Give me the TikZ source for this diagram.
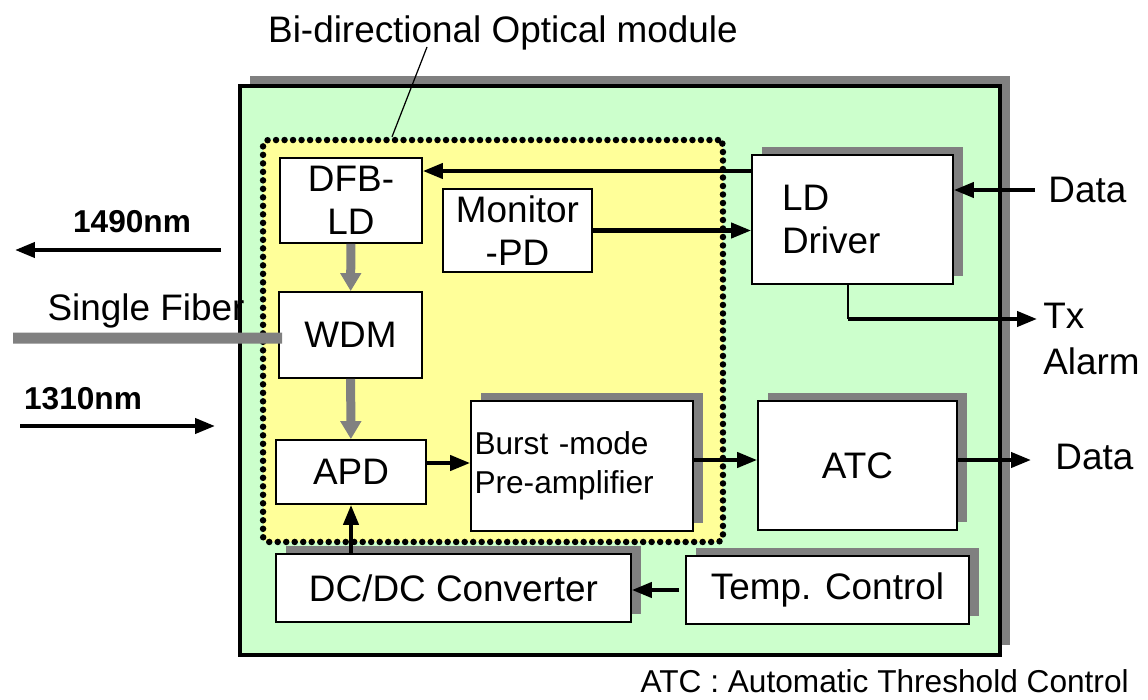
\documentclass[tikz,border=0pt]{standalone}
\usepackage{fontspec}
\setmainfont{Liberation Sans}
\usepackage{tikz}
\usetikzlibrary{arrows.meta,positioning,calc,shadows}
\definecolor{ModGreen}{HTML}{CCFFCC}
\definecolor{ModYellow}{HTML}{FFFF99}
\definecolor{ModGray}{HTML}{808080}
\tikzset{
    % Base block style
    blocknode/.style={
        draw=black,
        fill=white,
        line width=1pt,
        inner sep=0pt,
        align=center,
        font=\fontsize{21}{24.5}\selectfont
    },
    % Block with gray shadow
    shadownode/.style={
        blocknode,
        drop shadow={shadow xshift=0.2cm,shadow yshift=0.16cm,shadow scale=1,fill=ModGray,opacity=1}
    },
    % Outer module frame
    framenode/.style={
        draw=black,
        fill=ModGreen,
        line width=0.09cm,
        drop shadow={shadow xshift=0.2cm,shadow yshift=0.2cm,shadow scale=1,fill=ModGray,opacity=1}
    },
    % Dotted optical sub-module
    opticnode/.style={
        draw=black,
        fill=ModYellow,
        line width=0.13cm,
        dash pattern=on 0pt off 0.17cm,
        line cap=round,
        rounded corners=0.1cm
    },
    % Plain text label
    labelnode/.style={
        inner sep=0pt,
        font=\fontsize{21}{24}\selectfont
    },
    % Signal arrow
    sigarrow/.style={
        -{Triangle[length=0.4cm,width=0.3cm]},
        line width=2.3pt,
        draw=black
    },
    % Optical path arrow
    optarrow/.style={
        -{Triangle[length=0.36cm,width=0.4cm]},
        line width=0.18cm,
        draw=ModGray
    },
    % Fiber line
    fiberline/.style={
        line width=0.22cm,
        draw=ModGray
    }
}
\begin{document}
\begin{tikzpicture}[x=0.02cm,y=-0.02cm]
    \useasboundingbox (0,0) rectangle (1148,699);

    % Frames
    \node[framenode,minimum width=15.2cm,minimum height=11.38cm] (outer) at (620,370.5) {};
    \node[opticnode,minimum width=9.2cm,minimum height=8.04cm] (module) at (493,341) {};

    % Optical blocks
    \node[blocknode,minimum width=2.84cm,minimum height=1.7cm] (dfb) at (351,200.5) {DFB-\\LD};
    \node[blocknode,minimum width=2.98cm,minimum height=1.66cm] (mon) at (517.5,230.5) {Monitor\\-PD};
    \node[blocknode,minimum width=2.86cm,minimum height=1.72cm] (wdm) at (350.5,335) {WDM};
    \node[blocknode,minimum width=3cm,minimum height=1.28cm] (apd) at (351,472) {APD};

    % Electrical blocks
    \node[shadownode,minimum width=4.44cm,minimum height=2.6cm,align=left,text width=4.3cm,inner xsep=0.07cm,
          font=\fontsize{18}{22}\selectfont] (burst) at (582,466) {Burst -mode\\Pre-amplifier};
    \node[shadownode,minimum width=4.02cm,minimum height=2.58cm,align=left,text width=2.82cm,inner xsep=0.6cm] (ldd) at (852.5,219.5) {LD\\Driver};
    \node[shadownode,minimum width=3.98cm,minimum height=2.58cm] (atc) at (857.5,465.5) {ATC};
    \node[shadownode,minimum width=7.1cm,minimum height=1.36cm] (dcdc) at (453.5,588) {DC/DC Converter};
    \node[shadownode,minimum width=5.66cm,minimum height=1.36cm] (temp) at (827.5,590) {Temp. Control};

    % Labels
    \node[labelnode,anchor=base] (title) at (503,43) {Bi-directional Optical module};
    \node[labelnode,anchor=base west] (datain) at (1048,202) {Data};
    \node[labelnode,anchor=base west,align=left,font=\fontsize{21}{26}\selectfont] (txal) at (1043,374) {Tx\\Alarm};
    \node[labelnode,anchor=base west] (dataout) at (1055,469) {Data};
    \node[labelnode,anchor=base,font=\fontsize{18}{22}\selectfont\bfseries] (l1490) at (132,232) {1490nm};
    \node[labelnode,anchor=base] (fiber) at (146,320) {Single Fiber};
    \node[labelnode,anchor=base,font=\fontsize{18}{22}\selectfont\bfseries] (l1310) at (83,409) {1310nm};
    \node[labelnode,anchor=base east,font=\fontsize{18}{22}\selectfont] (note) at (1129,692) {ATC : Automatic Threshold Control};

    % Free ends
    \coordinate (leadtop) at (427,47);
    \coordinate (datainstart) at (1035,190);
    \coordinate (txend) at (1037,319);
    \coordinate (dataoutend) at (1031,460);
    \coordinate (a1490start) at (221,250);
    \coordinate (a1490end) at (15,250);
    \coordinate (a1310start) at (20,426);
    \coordinate (a1310end) at (215,426);
    \coordinate (fiberstart) at (13,338);
    \coordinate (ldcorner) at ([xshift=-0.09cm]ldd.south |- txend);

    % Leader line
    \draw[line width=0.7pt] ([xshift=-2.02cm]module.north) -- (leadtop);

    % Optical path
    \draw[optarrow] (dfb) -- (wdm);
    \draw[optarrow] (wdm) -- (apd);
    \draw[fiberline] (fiberstart) -- ([xshift=0.08cm,yshift=-0.06cm]wdm.west);

    % Signal arrows
    \draw[sigarrow] ([yshift=0.97cm]ldd.west) -- ([yshift=0.97cm]ldd.west -| dfb.east);
    \draw[sigarrow] (mon.east) -- (mon.east -| ldd.west);
    \draw[sigarrow] (datainstart) -- (datainstart -| ldd.east);
    \draw[line width=1.2pt] ([xshift=-0.09cm]ldd.south) -- (ldcorner);
    \draw[sigarrow] (ldcorner) -- (txend);
    \draw[sigarrow] ([yshift=0.18cm]apd.east) -- ([yshift=0.18cm]apd.east -| burst.west);
    \draw[sigarrow] ([yshift=0.12cm]burst.east) -- ([yshift=0.12cm]burst.east -| atc.west);
    \draw[sigarrow] (atc.east |- dataoutend) -- (dataoutend);
    \draw[sigarrow] (dcdc.north -| apd.south) -- (apd.south);
    \draw[sigarrow] ([xshift=-0.12cm]temp.west) -- (temp.west -| dcdc.east);
    \draw[sigarrow] (a1490start) -- (a1490end);
    \draw[sigarrow] (a1310start) -- (a1310end);
\end{tikzpicture}
\end{document}
